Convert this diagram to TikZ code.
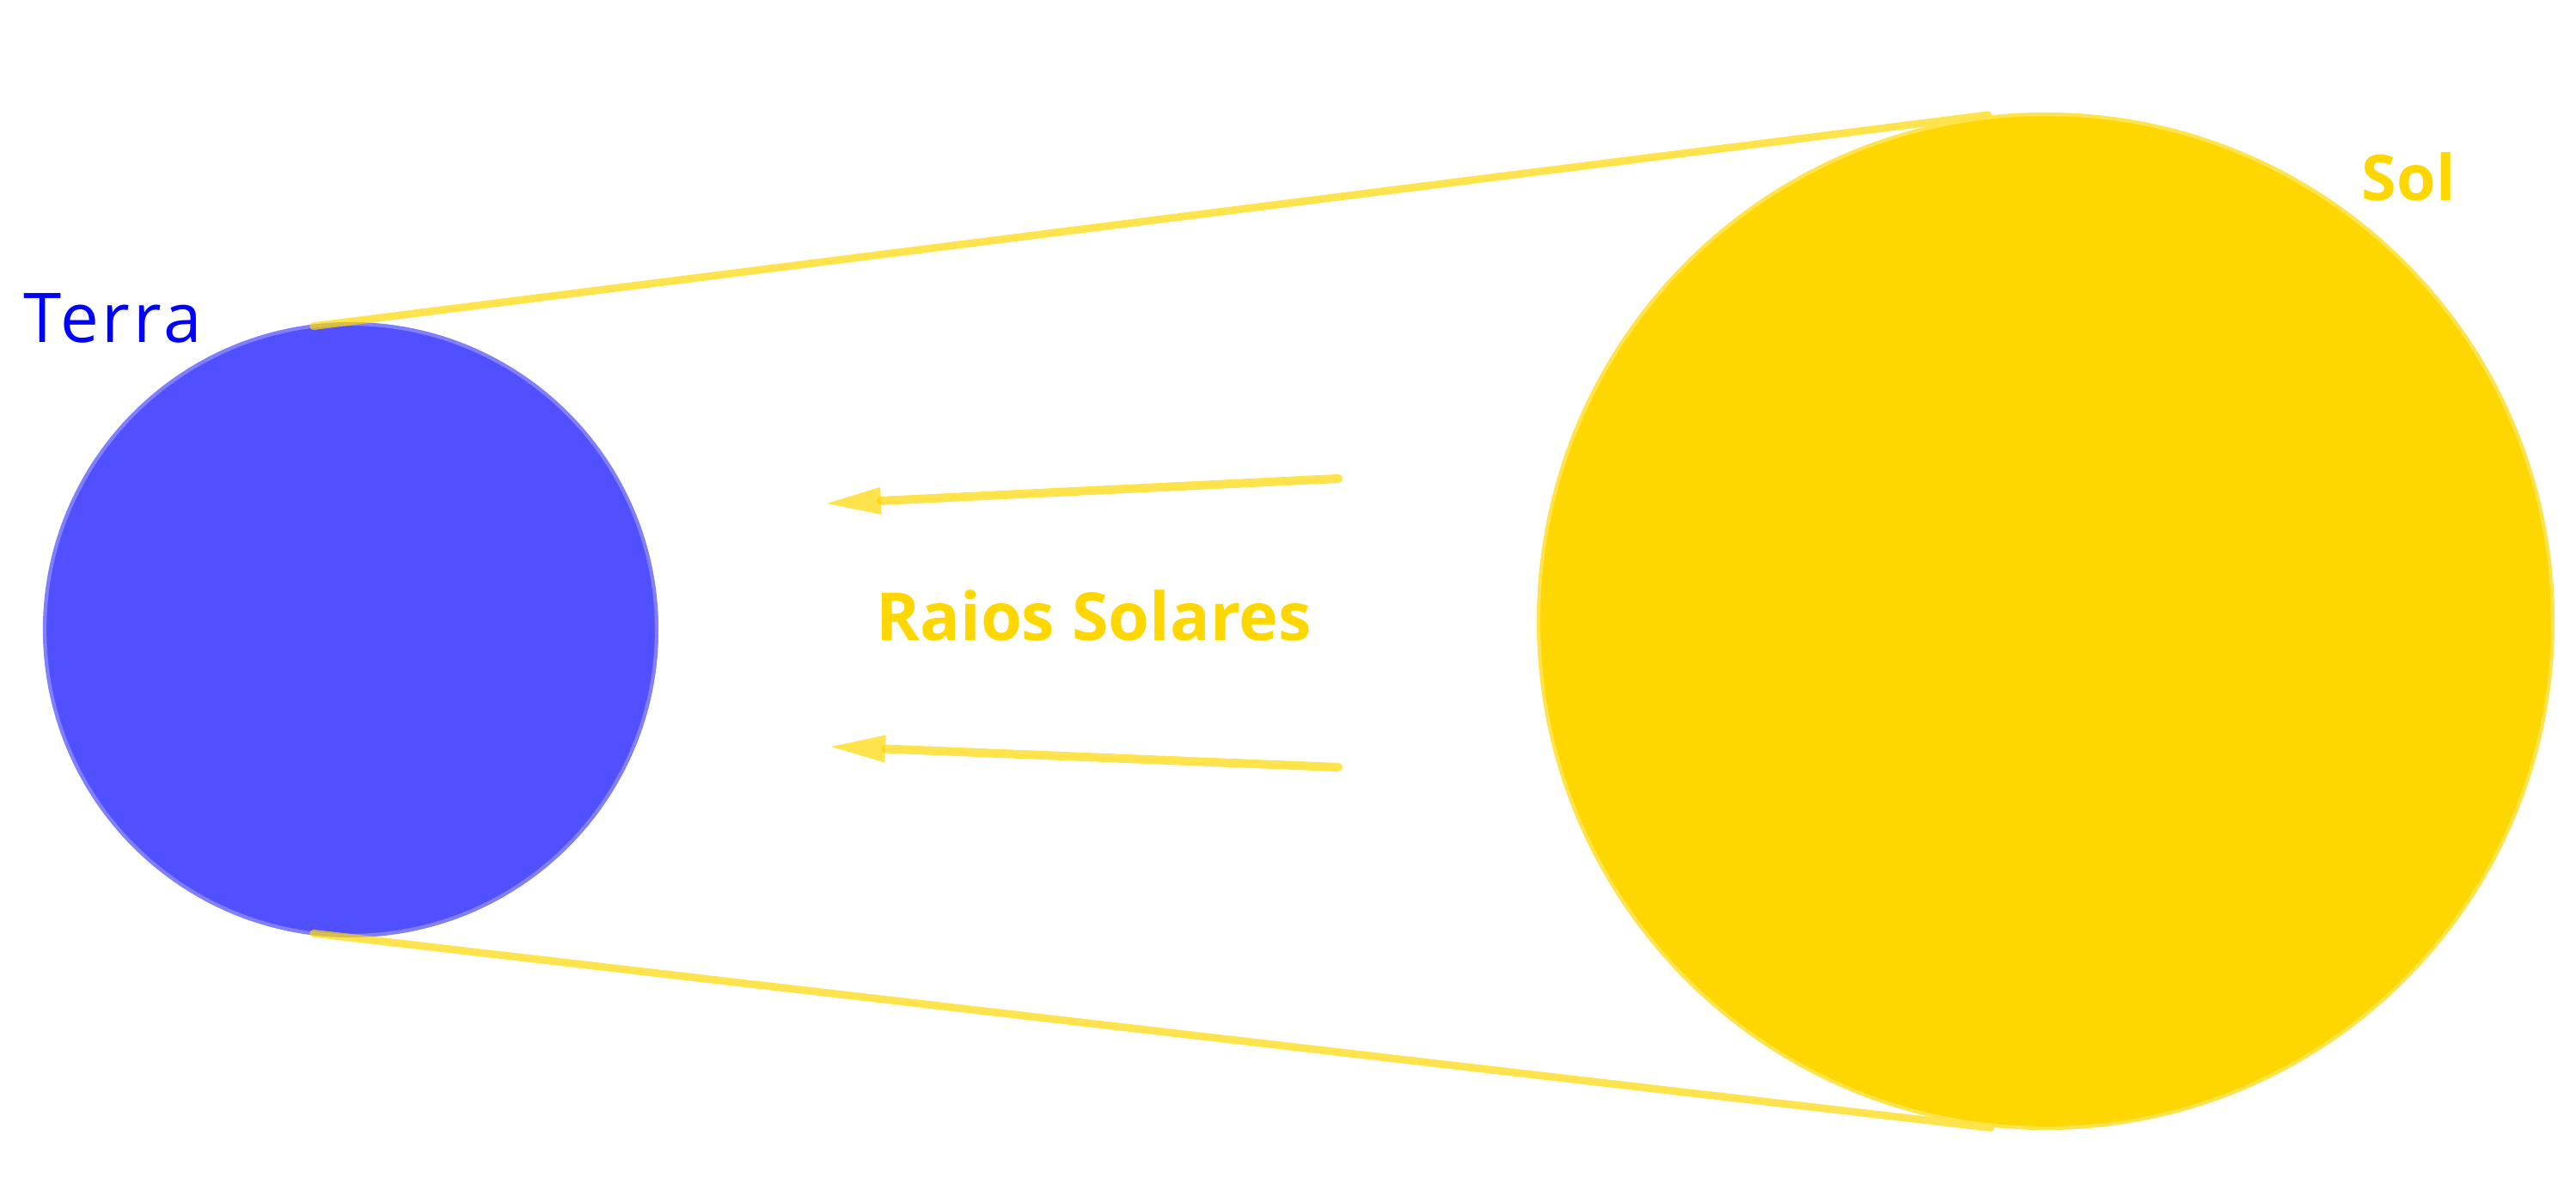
\documentclass[tikz,border=0pt]{standalone}
\usepackage{fontspec}
\setmainfont{Open Sans}
\usepackage{tikz}
\usetikzlibrary{arrows.meta,calc}

\definecolor{solgold}{RGB}{255,215,0}
\definecolor{terrablue}{RGB}{80,80,255}
\definecolor{terraedge}{RGB}{128,128,255}
\definecolor{labelblue}{RGB}{0,0,255}

\begin{document}
\begin{tikzpicture}[
  planet/.style={circle, inner sep=0pt, outer sep=0pt},
  tangent/.style={draw=solgold, draw opacity=0.7, line width=2.5pt, line cap=round},
  ray/.style={draw=solgold, draw opacity=0.7, fill=solgold, fill opacity=0.7, line width=2.85pt, line cap=round,
    -{Triangle[length=6.3mm, width=3.2mm, line width=0pt]}},
  tag/.style={anchor=base west, inner sep=0pt, font=\fontsize{22}{26}\selectfont}
]
\useasboundingbox (0,0) rectangle (29.97,13.91);

% Terra
\node[planet, minimum size=7.12cm, fill=terrablue, draw=terraedge, line width=1.2pt] (terra) at (4.08,6.58) {};
\node[tag, text=labelblue, font=\fontsize{22.7}{26}\selectfont\addfontfeature{LetterSpace=5}] (terralabel) at (0.27,9.92) {Terra};

% tangent lines from Terra towards the Sun
\coordinate (sunA) at ($(23.80,6.68)+(96.5:5.93)$);
\coordinate (sunB) at ($(23.80,6.68)+(263.8:5.93)$);
\draw[tangent] (terra.97.6) -- (sunA);
\draw[tangent] (terra.263.3) -- (sunB);

% Sol
\node[planet, minimum size=11.8cm, fill=solgold, draw=solgold!70, line width=1.2pt] (sol) at (23.80,6.68) {};
\node[tag, text=solgold, font=\fontsize{21}{26}\selectfont\bfseries] (sollabel) at (27.47,11.57) {Sol};

% Raios solares
\coordinate (rayAstart) at (15.57,8.34);
\coordinate (rayAend) at (9.62,8.05);
\coordinate (rayBstart) at (15.57,4.98);
\coordinate (rayBend) at (9.67,5.22);
\draw[ray] (rayAstart) -- (rayAend);
\draw[ray] (rayBstart) -- (rayBend);
\node[tag, text=solgold, font=\fontsize{22}{26}\selectfont\bfseries] (raios) at (10.19,6.45) {Raios Solares};

\end{tikzpicture}
\end{document}
